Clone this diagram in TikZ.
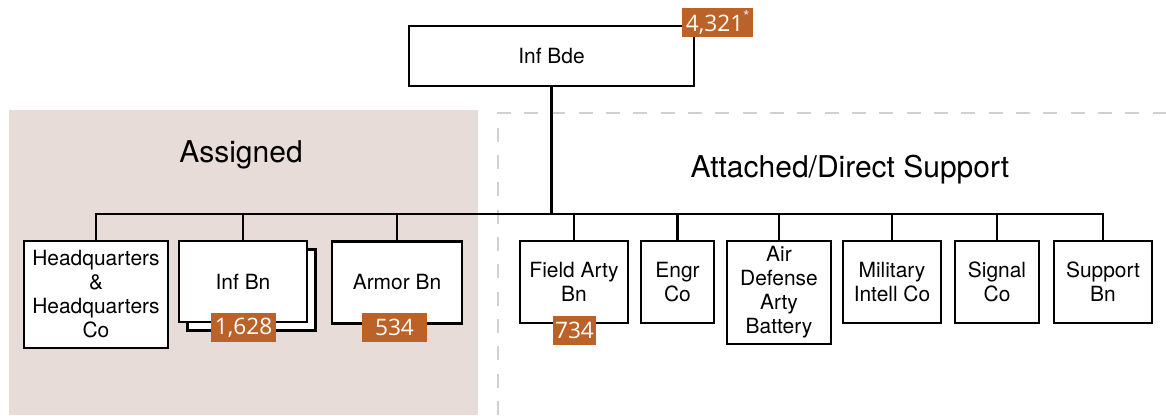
\documentclass[tikz,border=0pt]{standalone}
\usepackage{fontspec}
\setmainfont{TeX Gyre Heros}
\newfontfamily\badgefont{Open Sans}
\usetikzlibrary{shadows}
\definecolor{panelpink}{RGB}{232,220,217}
\definecolor{badgeorange}{RGB}{187,98,41}
\definecolor{dashgray}{RGB}{208,208,208}
\tikzset{
  orgbox/.style={draw=black, line width=2.05pt, fill=white, rectangle, inner sep=0pt,
    align=center, font=\fontsize{15.7}{18}\selectfont},
  badge/.style={fill=badgeorange, text=white, inner sep=0pt, minimum height=21.75pt,
    font=\badgefont\fontsize{17}{17}\selectfont},
  heading/.style={font=\fontsize{22.5}{27}\selectfont},
  link/.style={draw=black, line width=2.05pt},
}
\begin{document}
\begin{tikzpicture}[x=0.75pt,y=-0.75pt]
\useasboundingbox (0,0) rectangle (1166,415);
% panels
\fill[panelpink] (9,110) rectangle (478,415);
\draw[dashgray, line width=2.2pt, dash pattern=on 10.5pt off 10pt] (498,415) -- (498,113) -- (1166,113);
\node[heading] (assigned) at (241,155) {Assigned};
\node[heading] (attached) at (850,170) {Attached/Direct Support};
% boxes
\node[orgbox, minimum width=213.75pt, minimum height=45pt] (bde) at (551.5,56) {Inf Bde};
\node[orgbox, minimum width=108pt, minimum height=80.25pt] (hq) at (96,294.5) {Headquarters\\\&\\Headquarters\\Co};
\node[orgbox, minimum width=96pt, minimum height=60.75pt,
  copy shadow={shadow xshift=6.4pt, shadow yshift=-6.4pt, fill=white, draw=black, line width=2.05pt}] (infbn) at (243,281.5) {Inf Bn};
\node[orgbox, minimum width=97.5pt, minimum height=61.5pt] (armor) at (397,282.5) {Armor Bn};
\node[orgbox, minimum width=81pt, minimum height=61.5pt] (fa) at (574,282) {Field Arty\\Bn};
\node[orgbox, minimum width=54.75pt, minimum height=61.5pt] (engr) at (677.5,282) {Engr\\Co};
\node[orgbox, minimum width=78pt, minimum height=77.25pt] (ada) at (779,292.5) {Air\\Defense\\Arty\\Battery};
\node[orgbox, minimum width=73.5pt, minimum height=61.5pt] (mi) at (892,282) {Military\\Intell Co};
\node[orgbox, minimum width=63pt, minimum height=61.5pt] (sig) at (997,282) {Signal\\Co};
\node[orgbox, minimum width=73.5pt, minimum height=61.5pt] (sup) at (1103,282) {Support\\Bn};
% connectors
\coordinate (bus) at (0,214);
\draw[link] (hq.north) |- (sup.north |- bus) -- (sup.north);
\draw[link] (bde.south) -- (bde.south |- bus);
\foreach \n in {infbn,armor,fa,engr,ada,mi,sig}
  \draw[link] (\n.north) -- (\n.north |- bus);
% badges
\node[badge, minimum width=53.25pt] (b1) at (717.5,22.5) {4,321\raisebox{0.55em}{\fontsize{8}{8}\selectfont *}};
\node[badge, minimum width=48.75pt] (b2) at (243.5,327.5) {1,628};
\node[badge, minimum width=48.75pt] (b3) at (394.5,327.5) {534};
\node[badge, minimum width=32.25pt] (b4) at (574.5,330.5) {734};
\end{tikzpicture}
\end{document}
